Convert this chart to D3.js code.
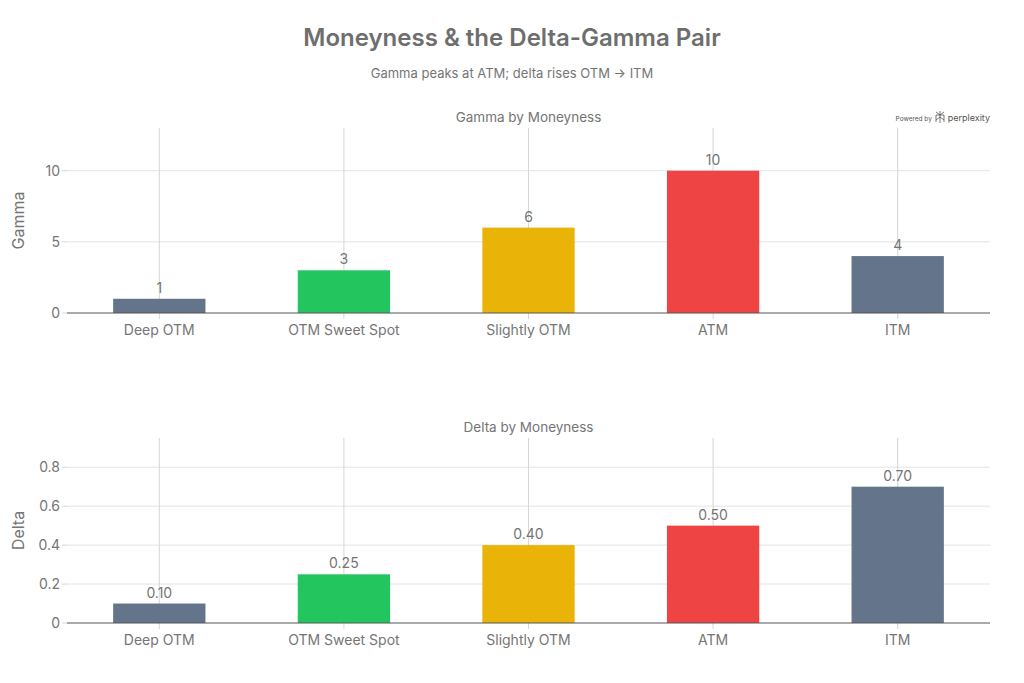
<!DOCTYPE html>
<html>
<head>
<meta charset="utf-8">
<script src="https://cdn.jsdelivr.net/npm/d3@7"></script>
<style>
  body { margin: 0; background: #fff; }
  svg { font-family: Inter, "Liberation Sans", sans-serif; }
</style>
</head>
<body>
<svg id="chart" width="1024" height="683"></svg>
<script>
const categories = ["Deep OTM", "OTM Sweet Spot", "Slightly OTM", "ATM", "ITM"];
const gammaValues = [1, 3, 6, 10, 4];
const deltaValues = [0.10, 0.25, 0.40, 0.50, 0.70];
const barColors = ["#64748B", "#22C55E", "#EAB308", "#EF4444", "#64748B"];
const gammaTicks = [0, 5, 10];
const deltaTicks = [0, 0.2, 0.4, 0.6, 0.8];

const svg = d3.select("#chart");
const textColor = "#757575";

svg.append("text")
  .attr("x", 512).attr("y", 46)
  .attr("text-anchor", "middle")
  .style("font-size", "24px").style("font-weight", "600")
  .attr("fill", "#6e6e6e")
  .text("Moneyness & the Delta-Gamma Pair");

svg.append("text")
  .attr("x", 512).attr("y", 78)
  .attr("text-anchor", "middle")
  .style("font-size", "13px")
  .attr("fill", textColor)
  .text("Gamma peaks at ATM; delta rises OTM \u2192 ITM");

// logo
svg.append("text")
  .attr("x", 990).attr("y", 121)
  .attr("text-anchor", "end")
  .style("font-size", "9px")
  .attr("fill", "#555")
  .html('<tspan style="font-size:6.5px">Powered by </tspan><tspan dx="14">perplexity</tspan>');
svg.append("g").attr("transform", "translate(940,117)")
  .append("path")
  .attr("d", "M-4,-5 L0,-2 L4,-5 M0,-6 V6 M-4,-2 H4 M-4,-2 V3 L0,0 L4,3 V-2 M-4,3 L-4,5 M4,3 L4,5")
  .attr("fill", "none").attr("stroke", "#555").attr("stroke-width", 0.8);

const margin = { left: 67, right: 990 };

function drawPanel(values, ticks, domainMax, top, bottom, title, yTitle, fmt) {
  const x = d3.scaleBand().domain(categories).range([margin.left, margin.right]).paddingInner(0.5).paddingOuter(0.25);
  const y = d3.scaleLinear().domain([0, domainMax]).range([bottom, top]);
  const g = svg.append("g");

  // horizontal grid
  g.selectAll(".hgrid").data(ticks.filter(t => t > 0)).enter().append("line")
    .attr("x1", margin.left).attr("x2", margin.right)
    .attr("y1", d => y(d)).attr("y2", d => y(d))
    .attr("stroke", "#e3e3e3").attr("stroke-width", 1);

  // vertical grid at categories
  g.selectAll(".vgrid").data(categories).enter().append("line")
    .attr("x1", d => x(d) + x.bandwidth() / 2).attr("x2", d => x(d) + x.bandwidth() / 2)
    .attr("y1", top).attr("y2", bottom + 6)
    .attr("stroke", "#d6d6d6").attr("stroke-width", 1);

  // y ticks
  g.selectAll(".ytick").data(ticks).enter().append("line")
    .attr("x1", margin.left - 5).attr("x2", margin.left)
    .attr("y1", d => y(d)).attr("y2", d => y(d))
    .attr("stroke", "#d6d6d6");
  g.selectAll(".ylab").data(ticks).enter().append("text")
    .attr("x", margin.left - 7).attr("y", d => y(d))
    .attr("dy", "0.35em").attr("text-anchor", "end")
    .style("font-size", "14px").attr("fill", textColor)
    .text(d => d === 0 ? "0" : (domainMax < 2 ? d.toFixed(1) : d));

  // bars
  g.selectAll(".bar").data(values).enter().append("rect")
    .attr("x", (d, i) => x(categories[i]))
    .attr("y", d => y(d))
    .attr("width", x.bandwidth())
    .attr("height", d => bottom - y(d))
    .attr("fill", (d, i) => barColors[i]);

  // bar labels
  g.selectAll(".blab").data(values).enter().append("text")
    .attr("x", (d, i) => x(categories[i]) + x.bandwidth() / 2)
    .attr("y", d => y(d) - 6)
    .attr("text-anchor", "middle")
    .style("font-size", "14px").attr("fill", textColor)
    .text(fmt);

  // baseline
  g.append("line")
    .attr("x1", margin.left).attr("x2", margin.right)
    .attr("y1", bottom).attr("y2", bottom)
    .attr("stroke", "#555").attr("stroke-width", 1);

  // x labels
  g.selectAll(".xlab").data(categories).enter().append("text")
    .attr("x", d => x(d) + x.bandwidth() / 2)
    .attr("y", bottom + 22)
    .attr("text-anchor", "middle")
    .style("font-size", "14px").attr("fill", textColor)
    .text(d => d);

  // panel title
  g.append("text")
    .attr("x", (margin.left + margin.right) / 2).attr("y", top - 6)
    .attr("text-anchor", "middle")
    .style("font-size", "13.5px").attr("fill", textColor)
    .text(title);

  // y title
  g.append("text")
    .attr("transform", `translate(24,${(top + bottom) / 2}) rotate(-90)`)
    .attr("text-anchor", "middle")
    .style("font-size", "16px").attr("fill", textColor)
    .text(yTitle);
}

drawPanel(gammaValues, gammaTicks, 13, 128, 313, "Gamma by Moneyness", "Gamma", d => d);
drawPanel(deltaValues, deltaTicks, 0.95, 438, 623, "Delta by Moneyness", "Delta", d => d.toFixed(2));
</script>
</body>
</html>
